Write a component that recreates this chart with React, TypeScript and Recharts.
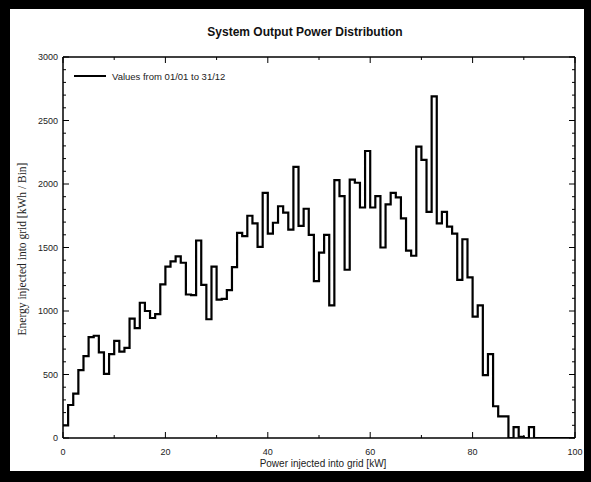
import { ComposedChart, Line, XAxis, YAxis, Legend } from 'recharts';

// energy per 1 kW bin, bins starting at 0 kW
const energyPerBin = [
  100, 260, 350, 535, 645, 795, 805, 675, 505, 660,
  765, 680, 710, 940, 865, 1065, 1000, 945, 975, 1210,
  1350, 1390, 1430, 1380, 1130, 1125, 1555, 1205, 935, 1350,
  1090, 1095, 1165, 1345, 1615, 1590, 1750, 1690, 1505, 1930,
  1610, 1695, 1825, 1775, 1640, 2135, 1670, 1805, 1600, 1235,
  1460, 1600, 1045, 2030, 1905, 1325, 2035, 2010, 1815, 2260,
  1815, 1905, 1500, 1840, 1930, 1895, 1730, 1475, 1435, 2295,
  2190, 1780, 2690, 1690, 1780, 1665, 1610, 1245, 1565, 1265,
  955, 1045, 495, 660, 250, 170, 170, 0, 85, 10,
  0, 85, 0,
];

const xMajorTicks = [0, 20, 40, 60, 80, 100];
const xMinorTicks = [10, 30, 50, 70, 90];
const yMajorTicks = [0, 500, 1000, 1500, 2000, 2500, 3000];
const yMinorTicks = [
  100, 200, 300, 400, 600, 700, 800, 900, 1100, 1200, 1300, 1400,
  1600, 1700, 1800, 1900, 2100, 2200, 2300, 2400, 2600, 2700, 2800, 2900,
];

const xTicks = [...xMajorTicks, ...xMinorTicks].sort((a, b) => a - b);
const yTicks = [...yMajorTicks, ...yMinorTicks].sort((a, b) => a - b);

const data = energyPerBin.map((v, i) => ({ kw: i, energy: v }));
data.push({ kw: energyPerBin.length, energy: 0 });
data.push({ kw: 100, energy: 0 });

const FONT = '"Liberation Sans", Arial, sans-serif';
const LABEL = '#222';

const BottomTick = (p: any) => {
  const major = xMajorTicks.includes(p.payload.value);
  return (
    <g>
      <line x1={p.x} x2={p.x} y1={p.y} y2={p.y - (major ? 6 : 3)} stroke="#000" strokeWidth={1} />
      {major && (
        <text x={p.x} y={p.y + 17} textAnchor="middle" fontSize={9} fontFamily={FONT} fill={LABEL}>
          {p.payload.value}
        </text>
      )}
    </g>
  );
};

const TopTick = (p: any) => {
  const major = xMajorTicks.includes(p.payload.value);
  return <line x1={p.x} x2={p.x} y1={p.y} y2={p.y + (major ? 6 : 3)} stroke="#000" strokeWidth={1} />;
};

const LeftTick = (p: any) => {
  const major = yMajorTicks.includes(p.payload.value);
  return (
    <g>
      <line x1={p.x} x2={p.x + (major ? 6 : 3)} y1={p.y} y2={p.y} stroke="#000" strokeWidth={1} />
      {major && (
        <text x={p.x - 5} y={p.y + 3} textAnchor="end" fontSize={9} fontFamily={FONT} fill={LABEL}>
          {p.payload.value}
        </text>
      )}
    </g>
  );
};

const RightTick = (p: any) => {
  const major = yMajorTicks.includes(p.payload.value);
  return <line x1={p.x} x2={p.x - (major ? 6 : 3)} y1={p.y} y2={p.y} stroke="#000" strokeWidth={1} />;
};

const LegendBox = () => (
  <svg width={180} height={14}>
    <line x1={2} x2={34} y1={7} y2={7} stroke="#000" strokeWidth={2} />
    <text x={40} y={10.5} fontSize={9.5} fontFamily={FONT} fill={LABEL}>
      Values from 01/01 to 31/12
    </text>
  </svg>
);

const frame = { stroke: '#000', strokeWidth: 1.5 };

export default function App() {
  return (
    <div style={{ position: 'absolute', left: 0, top: 0, width: 591, height: 482, background: '#000' }}>
      <div style={{ position: 'absolute', left: 10, top: 9, width: 574, height: 462, background: '#fff' }} />
      <div
        style={{
          position: 'absolute', left: 0, top: 25, width: 610, textAlign: 'center',
          fontFamily: FONT, fontWeight: 'bold', fontSize: 12, color: '#111',
        }}
      >
        System Output Power Distribution
      </div>
      <div
        style={{
          position: 'absolute', left: 22, top: 249, width: 0, height: 0,
        }}
      >
        <div
          style={{
            position: 'absolute', left: -150, top: -7, width: 300, textAlign: 'center',
            transform: 'rotate(-90deg)', fontFamily: '"Liberation Serif", serif', fontSize: 11.5,
            color: LABEL, whiteSpace: 'nowrap', lineHeight: '14px',
          }}
        >
          Energy injected into grid [kWh / Bin]
        </div>
      </div>
      <div
        style={{
          position: 'absolute', left: 0, top: 458, width: 646, textAlign: 'center',
          fontFamily: FONT, fontSize: 10, color: LABEL,
        }}
      >
        Power injected into grid [kW]
      </div>
      <div style={{ position: 'absolute', left: 0, top: 0 }}>
        <ComposedChart width={591} height={482} data={data} margin={{ top: 52, right: 10, bottom: 14, left: 23 }}>
          <XAxis
            xAxisId="b" dataKey="kw" type="number" domain={[0, 100]} ticks={xTicks} interval={0}
            tick={<BottomTick />} tickLine={false} tickSize={0} tickMargin={0} axisLine={frame} height={30}
          />
          <XAxis
            xAxisId="t" orientation="top" dataKey="kw" type="number" domain={[0, 100]} ticks={xTicks} interval={0}
            tick={<TopTick />} tickLine={false} tickSize={0} tickMargin={0} axisLine={frame} height={5}
          />
          <YAxis
            yAxisId="l" type="number" domain={[0, 3000]} ticks={yTicks} interval={0} allowDataOverflow
            tick={<LeftTick />} tickLine={false} tickSize={0} tickMargin={0} axisLine={frame} width={40}
          />
          <YAxis
            yAxisId="r" orientation="right" type="number" domain={[0, 3000]} ticks={yTicks} interval={0}
            tick={<RightTick />} tickLine={false} tickSize={0} tickMargin={0} axisLine={frame} width={6}
          />
          <Legend
            layout="horizontal" verticalAlign="middle" align="center"
            content={<LegendBox />}
            wrapperStyle={{ position: 'absolute', left: 72, top: 69, width: 180 }}
          />
          <Line
            xAxisId="b" yAxisId="l" type="stepAfter" dataKey="energy" name="Values from 01/01 to 31/12"
            stroke="#000" strokeWidth={2.2} dot={false} isAnimationActive={false}
          />
          <Line
            xAxisId="t" yAxisId="r" type="stepAfter" dataKey="energy" stroke="none" dot={false}
            legendType="none" isAnimationActive={false}
          />
        </ComposedChart>
      </div>
    </div>
  );
}
